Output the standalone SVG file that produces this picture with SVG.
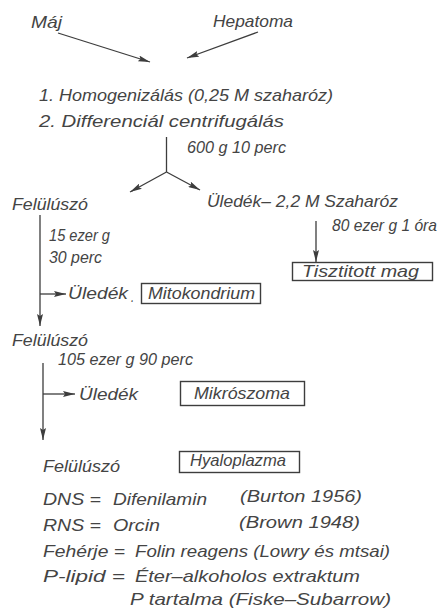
<svg xmlns="http://www.w3.org/2000/svg" width="447" height="611" viewBox="0 0 447 611">
<style>
text{font-family:"Liberation Sans","DejaVu Sans",sans-serif;font-style:italic;font-size:17px;fill:#444444}
.ln{stroke:#3d3d3d;stroke-width:1.3;fill:none}
.bx{stroke:#3d3d3d;stroke-width:1.4;fill:none}
</style>
<defs>
<marker id="ah" viewBox="0 0 12 6" refX="12" refY="3" markerWidth="12" markerHeight="6" markerUnits="userSpaceOnUse" orient="auto">
<path d="M0,0 L12,3 L0,6 L2,3 Z" fill="#3d3d3d"/>
</marker>
</defs>
<rect width="447" height="611" fill="#ffffff"/>
<g id="connectors">
<line class="ln" x1="58" y1="33" x2="150" y2="62" marker-end="url(#ah)"/>
<line class="ln" x1="258" y1="32" x2="187" y2="58" marker-end="url(#ah)"/>
<line class="ln" x1="166.5" y1="137" x2="166.5" y2="172"/>
<line class="ln" x1="166.5" y1="172" x2="130" y2="192" marker-end="url(#ah)"/>
<line class="ln" x1="166.5" y1="172" x2="200" y2="190" marker-end="url(#ah)"/>
<line class="ln" x1="316" y1="221" x2="316" y2="262" marker-end="url(#ah)"/>
<line class="ln" x1="40" y1="215" x2="40" y2="326" marker-end="url(#ah)"/>
<line class="ln" x1="40" y1="294" x2="66" y2="294" marker-end="url(#ah)"/>
<line class="ln" x1="43" y1="363" x2="43" y2="440" marker-end="url(#ah)"/>
<line class="ln" x1="43" y1="394" x2="75" y2="394" marker-end="url(#ah)"/>
</g>
<g id="maj"><text x="31" y="28" textLength="31" lengthAdjust="spacingAndGlyphs">Máj</text></g>
<g id="hepatoma"><text x="213" y="27" textLength="80" lengthAdjust="spacingAndGlyphs">Hepatoma</text></g>
<g id="step1"><text x="39" y="101" textLength="294" lengthAdjust="spacingAndGlyphs">1. Homogenizálás (0,25 M szaharóz)</text></g>
<g id="step2"><text x="39" y="127" textLength="245" lengthAdjust="spacingAndGlyphs">2. Differenciál centrifugálás</text></g>
<g id="cond1"><text x="187" y="153" textLength="99" lengthAdjust="spacingAndGlyphs">600 g 10 perc</text></g>
<g id="feluluszo1"><text x="12" y="210" textLength="76" lengthAdjust="spacingAndGlyphs">Felülúszó</text></g>
<g id="uledek-szaharoz"><text x="207" y="207" textLength="191" lengthAdjust="spacingAndGlyphs">Üledék– 2,2 M  Szaharóz</text></g>
<g id="cond2"><text x="49" y="241" textLength="61" lengthAdjust="spacingAndGlyphs">15 ezer g</text><text x="49" y="263" textLength="53" lengthAdjust="spacingAndGlyphs">30 perc</text></g>
<g id="cond3"><text x="332" y="231" textLength="105" lengthAdjust="spacingAndGlyphs">80 ezer g  1 óra</text></g>
<g id="tisztitott-mag"><rect class="bx" x="292.5" y="262.5" width="140" height="18"/><text x="302" y="277" textLength="117" lengthAdjust="spacingAndGlyphs">Tisztitott mag</text></g>
<g id="uledek1"><text x="68" y="299" textLength="60" lengthAdjust="spacingAndGlyphs">Üledék</text><text x="131" y="302" textLength="3" lengthAdjust="spacingAndGlyphs">.</text></g>
<g id="mitokondrium"><rect class="bx" x="141.5" y="283.5" width="119" height="20"/><text x="148" y="299" textLength="107" lengthAdjust="spacingAndGlyphs">Mitokondrium</text></g>
<g id="feluluszo2"><text x="12" y="346" textLength="76" lengthAdjust="spacingAndGlyphs">Felülúszó</text></g>
<g id="cond4"><text x="58" y="365" textLength="135" lengthAdjust="spacingAndGlyphs">105 ezer g 90 perc</text></g>
<g id="uledek2"><text x="79" y="400" textLength="59" lengthAdjust="spacingAndGlyphs">Üledék</text></g>
<g id="mikroszoma"><rect class="bx" x="180.5" y="381.5" width="124" height="24"/><text x="194" y="399" textLength="96" lengthAdjust="spacingAndGlyphs">Mikrószoma</text></g>
<g id="feluluszo3"><text x="43" y="472" textLength="77" lengthAdjust="spacingAndGlyphs">Felülúszó</text></g>
<g id="hyaloplazma"><rect class="bx" x="179.5" y="451.5" width="120" height="21"/><text x="190" y="466" textLength="96" lengthAdjust="spacingAndGlyphs">Hyaloplazma</text></g>
<g id="legend">
<text x="43" y="505" textLength="58" lengthAdjust="spacingAndGlyphs">DNS =</text>
<text x="113" y="505" textLength="94" lengthAdjust="spacingAndGlyphs">Difenilamin</text>
<text x="240" y="502" textLength="122" lengthAdjust="spacingAndGlyphs">(Burton  1956)</text>
<text x="43" y="531" textLength="58" lengthAdjust="spacingAndGlyphs">RNS =</text>
<text x="113" y="531" textLength="47" lengthAdjust="spacingAndGlyphs">Orcin</text>
<text x="239" y="528" textLength="121" lengthAdjust="spacingAndGlyphs">(Brown  1948)</text>
<text x="43" y="557" textLength="82" lengthAdjust="spacingAndGlyphs">Fehérje =</text>
<text x="135" y="557" textLength="255" lengthAdjust="spacingAndGlyphs">Folin reagens (Lowry és mtsai)</text>
<text x="43" y="582" textLength="82" lengthAdjust="spacingAndGlyphs">P-lipid =</text>
<text x="135" y="582" textLength="225" lengthAdjust="spacingAndGlyphs">Éter–alkoholos extraktum</text>
<text x="130" y="605" textLength="261" lengthAdjust="spacingAndGlyphs">P tartalma  (Fiske–Subarrow)</text>
</g>
</svg>
